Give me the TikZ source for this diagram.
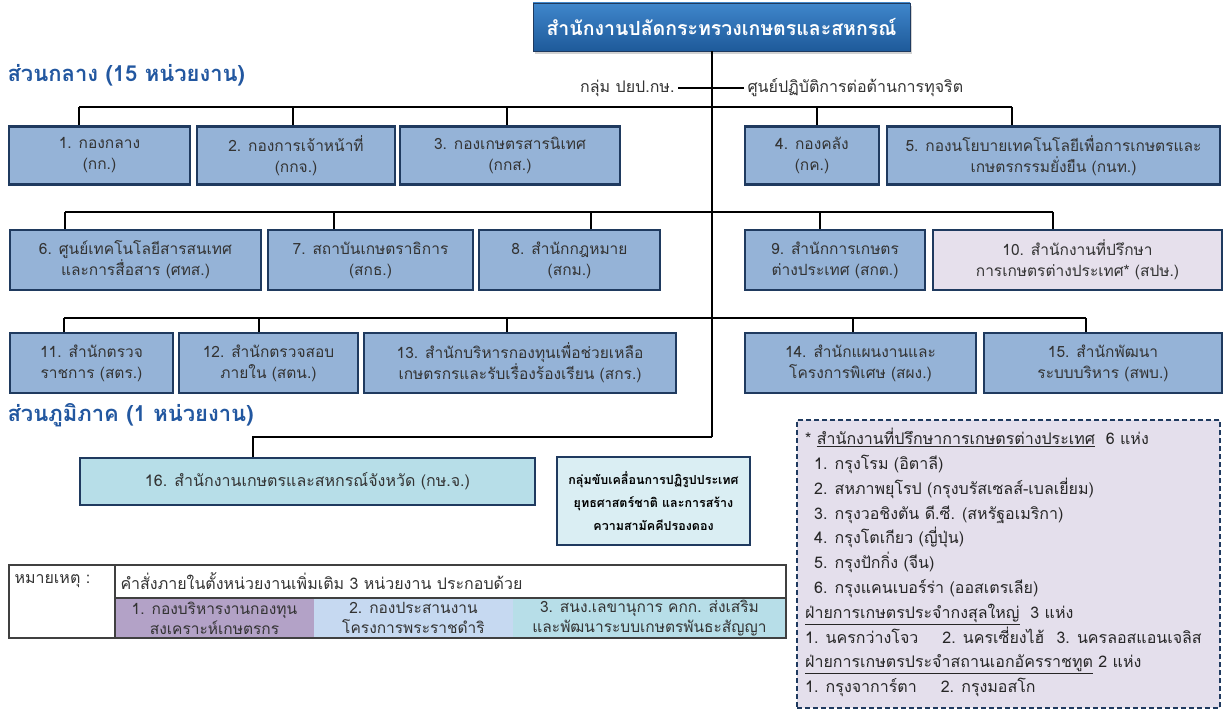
\documentclass[tikz,border=0pt]{standalone}
\usepackage{fontspec}
\newfontfamily\thaifont[Script=Thai]{Loma}
\usetikzlibrary{shadows}
\definecolor{unitblue}{HTML}{95B3D7}
\definecolor{unitline}{HTML}{1F3A5F}
\definecolor{titletop}{HTML}{3F86CB}
\definecolor{titlebot}{HTML}{1E5A9A}
\definecolor{headblue}{HTML}{2257A0}
\definecolor{lavender}{HTML}{E6E0EC}
\definecolor{provcyan}{HTML}{B7DEE8}
\definecolor{palecyan}{HTML}{DAEEF3}
\definecolor{notefill}{HTML}{E4DFEC}
\definecolor{purplecell}{HTML}{B3A2C7}
\definecolor{bluecell}{HTML}{C6D9F1}
\definecolor{tealcell}{HTML}{B7DEE8}
\definecolor{txtgray}{HTML}{333333}

\begin{document}
\begin{tikzpicture}[x=1pt,y=-1pt,
  every node/.style={font=\thaifont, text=txtgray},
  title/.style={draw=unitline, line width=0.8pt, top color=titletop, bottom color=titlebot,
    text=white, inner sep=0pt, font=\thaifont\bfseries\fontsize{19.5}{22}\selectfont,
    drop shadow={shadow xshift=2pt, shadow yshift=-3pt, opacity=0.35}},
  unit/.style={draw=unitline, line width=2.4pt, fill=unitblue, align=center, inner sep=0pt,
    font=\thaifont\fontsize{15.5}{21}\selectfont},
  drive/.style={draw=unitline, line width=1.5pt, fill=palecyan, align=center, inner sep=0pt,
    text=black, font=\thaifont\bfseries\fontsize{12.5}{23}\selectfont},
  head/.style={anchor=west, text=headblue, font=\thaifont\bfseries\fontsize{22}{24}\selectfont},
  side/.style={font=\thaifont\fontsize{16}{18}\selectfont},
  cell/.style={minimum height=40pt, inner sep=0pt, align=center,
    font=\thaifont\fontsize{15.5}{20}\selectfont},
  tbl/.style={line width=1.2pt, black!75},
  notebox/.style={draw=unitline, dash pattern=on 5pt off 3pt, line width=1.4pt, fill=notefill},
  link/.style={line width=1.7pt, black}
]
\useasboundingbox (0,0) rectangle (1225,711);
\fill[white] (0,0) rectangle (1225,711);

% top office
\node[title, minimum width=377pt, minimum height=48pt] (top) at (721.5,27) {สำนักงานปลัดกระทรวงเกษตรและสหกรณ์};
\node[head] (central) at (4,75) {ส่วนกลาง (15 หน่วยงาน)};
\node[side, anchor=east] (pyp) at (678,88) {กลุ่ม ปยป.กษ.};
\node[side, anchor=west] (anti) at (744,88) {ศูนย์ปฏิบัติการต่อต้านการทุจริต};
\coordinate (trunk) at (712,437);
\draw[link] (top.south -| trunk) -- (trunk);
\draw[link] (pyp) -- (anti);

% row 1
\node[unit, minimum width=181pt, minimum height=58pt] (u1) at (99.5,155.5) {1. กองกลาง\\(กก.)};
\node[unit, minimum width=198pt, minimum height=58pt] (u2) at (296,155.5) {2. กองการเจ้าหน้าที่\\(กกจ.)};
\node[unit, minimum width=220pt, minimum height=58pt] (u3) at (510,155.5) {3. กองเกษตรสารนิเทศ\\(กกส.)};
\node[unit, minimum width=134pt, minimum height=58pt] (u4) at (812,155.5) {4. กองคลัง\\(กค.)};
\node[unit, minimum width=333pt, minimum height=58pt] (u5) at (1053.5,155.5) {5. กองนโยบายเทคโนโลยีเพื่อการเกษตรและ\\เกษตรกรรมยั่งยืน (กนท.)};
\draw[link] (79,107) coordinate (busA) -- (1012,107);
\foreach \n/\x in {u1/79,u2/293,u3/507,u4/817,u5/1012}
  \draw[link] (busA -| \x,0) -- (\n.north -| \x,0);

% row 2
\node[unit, minimum width=251pt, minimum height=60pt] (u6) at (135.5,260) {6. ศูนย์เทคโนโลยีสารสนเทศ\\และการสื่อสาร (ศทส.)};
\node[unit, minimum width=205pt, minimum height=60pt] (u7) at (370.5,260) {7. สถาบันเกษตราธิการ\\(สกธ.)};
\node[unit, minimum width=181pt, minimum height=60pt] (u8) at (569.5,260) {8. สำนักกฎหมาย\\(สกม.)};
\node[unit, minimum width=180pt, minimum height=60pt] (u9) at (835,260) {9. สำนักการเกษตร\\ต่างประเทศ (สกต.)};
\node[unit, fill=lavender, minimum width=289pt, minimum height=60pt] (u10) at (1077.5,260) {10. สำนักงานที่ปรึกษา\\การเกษตรต่างประเทศ* (สปษ.)};
\draw[link] (65,212) coordinate (busB) -- (1053,212);
\foreach \n/\x in {u6/65,u7/334,u8/591,u9/820,u10/1053}
  \draw[link] (busB -| \x,0) -- (\n.north -| \x,0);

% row 3
\node[unit, minimum width=163pt, minimum height=60pt] (u11) at (91.5,363) {11. สำนักตรวจ\\ราชการ (สตร.)};
\node[unit, minimum width=179pt, minimum height=60pt] (u12) at (268.5,363) {12. สำนักตรวจสอบ\\ภายใน (สตน.)};
\node[unit, minimum width=312pt, minimum height=60pt] (u13) at (520,363) {13. สำนักบริหารกองทุนเพื่อช่วยเหลือ\\เกษตรกรและรับเรื่องร้องเรียน (สกร.)};
\node[unit, minimum width=231pt, minimum height=60pt] (u14) at (860.5,363) {14. สำนักแผนงานและ\\โครงการพิเศษ (สผง.)};
\node[unit, minimum width=238pt, minimum height=60pt] (u15) at (1103,363) {15. สำนักพัฒนา\\ระบบบริหาร (สพบ.)};
\draw[link] (64,318) coordinate (busC) -- (1086,318);
\foreach \n/\x in {u11/64,u12/259,u13/507,u14/853,u15/1086}
  \draw[link] (busC -| \x,0) -- (\n.north -| \x,0);

% regional part
\node[head] (region) at (4,415) {ส่วนภูมิภาค (1 หน่วยงาน)};
\node[unit, fill=provcyan, minimum width=455pt, minimum height=47pt, font=\thaifont\fontsize{16}{20}\selectfont] (u16) at (307.5,481.5) {16. สำนักงานเกษตรและสหกรณ์จังหวัด (กษ.จ.)};
\draw[link] (trunk) -| (u16.north -| 253,0);
\node[drive, minimum width=193pt, minimum height=88pt] (drv) at (653.5,501) {กลุ่มขับเคลื่อนการปฏิรูปประเทศ\\ยุทธศาสตร์ชาติ และการสร้าง\\ความสามัคคีปรองดอง};

% remark table
\node[cell, fill=purplecell, minimum width=199pt] (c1) at (214.5,618) {1. กองบริหารงานกองทุน\\สงเคราะห์เกษตรกร};
\node[cell, fill=bluecell, minimum width=199pt] (c2) at (413.5,618) {2. กองประสานงาน\\โครงการพระราชดำริ};
\node[cell, fill=tealcell, minimum width=273pt] (c3) at (649.5,618) {3. สนง.เลขานุการ คกก. ส่งเสริม\\และพัฒนาระบบเกษตรพันธะสัญญา};
\draw[tbl] (9,565) rectangle (786,638);
\draw[tbl] (115,565) -- (115,638) (115,598) -- (786,598);
\draw[line width=2.4pt, black!75] (9,638) -- (786,638);
\node[side, anchor=west] (remark) at (11,581) {หมายเหตุ :};
\node[side, anchor=west] (order) at (117,581) {คำสั่งภายในตั้งหน่วยงานเพิ่มเติม 3 หน่วยงาน ประกอบด้วย};

% foreign offices note
\node[notebox, minimum width=423pt, minimum height=288pt] (note) at (1008.5,564) {};
\node[anchor=north west, align=left, inner sep=0pt, text=black!85,
  font=\thaifont\fontsize{16}{24.8}\selectfont] (notelist) at (805,428)
  {* \underline{สำนักงานที่ปรึกษาการเกษตรต่างประเทศ}~~6 แห่ง\\
   \hspace*{9pt}1. กรุงโรม (อิตาลี)\\
   \hspace*{9pt}2. สหภาพยุโรป (กรุงบรัสเซลส์-เบลเยี่ยม)\\
   \hspace*{9pt}3. กรุงวอชิงตัน ดี.ซี. (สหรัฐอเมริกา)\\
   \hspace*{9pt}4. กรุงโตเกียว (ญี่ปุ่น)\\
   \hspace*{9pt}5. กรุงปักกิ่ง (จีน)\\
   \hspace*{9pt}6. กรุงแคนเบอร์ร่า (ออสเตรเลีย)\\
   \underline{ฝ่ายการเกษตรประจำกงสุลใหญ่}~~3 แห่ง\\
   1. นครกว่างโจว\hspace{24pt}2. นครเซี่ยงไฮ้\hspace{12pt}3. นครลอสแอนเจลิส\\
   \underline{ฝ่ายการเกษตรประจำสถานเอกอัครราชทูต} 2 แห่ง\\
   1. กรุงจาการ์ตา\hspace{24pt}2. กรุงมอสโก};
\end{tikzpicture}
\end{document}
